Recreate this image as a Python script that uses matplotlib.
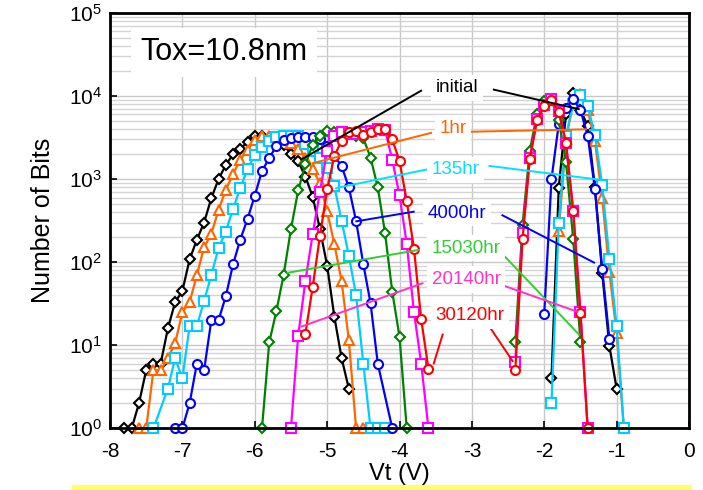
import matplotlib
matplotlib.use("Agg")
import matplotlib.pyplot as plt
from matplotlib.patches import Rectangle
from matplotlib.ticker import LogLocator, FixedLocator, NullFormatter

plt.rcParams["font.family"] = ["Liberation Sans", "DejaVu Sans"]
plt.rcParams["axes.unicode_minus"] = False
plt.rcParams["mathtext.fontset"] = "custom"
plt.rcParams["mathtext.rm"] = "Liberation Sans"
plt.rcParams["mathtext.it"] = "Liberation Sans:italic"
plt.rcParams["mathtext.bf"] = "Liberation Sans:bold"

# ---- Vt distributions: erased (lo) and programmed (hi) states per retention time ----
vt_initial_lo = [-7.8, -7.7, -7.6, -7.5, -7.4, -7.3, -7.2, -7.1, -7.0, -6.9, -6.8, -6.7, -6.6,
                 -6.5, -6.4, -6.3, -6.2, -6.1, -6.0, -5.9, -5.8, -5.7, -5.6, -5.5, -5.4, -5.3,
                 -5.2, -5.1, -5.0, -4.9, -4.8, -4.7]
n_initial_lo = [1, 1, 2, 5, 6, 6, 16, 33, 45, 108, 186, 300, 590,
                1000, 1480, 2000, 2290, 2830, 3300, 3350, 3100, 2800, 2600, 2000, 1630, 1070,
                615, 252, 91, 22, 7, 3]
vt_initial_hi = [-1.9, -1.8, -1.7, -1.6, -1.5, -1.4, -1.3, -1.2, -1.1, -1.0]
n_initial_hi = [4, 780, 6000, 11000, 6800, 4400, 800, 75, 9.8, 3]

vt_1hr_lo = [-7.6, -7.5, -7.4, -7.3, -7.2, -7.1, -7.0, -6.9, -6.8, -6.7, -6.6, -6.5, -6.4,
             -6.3, -6.2, -6.1, -6.0, -5.9, -5.8, -5.7, -5.6, -5.5, -5.4, -5.3, -5.2, -5.1,
             -5.0, -4.9, -4.8, -4.7, -4.6, -4.5]
n_1hr_lo = [1, 1, 5, 5, 7, 10.6, 25, 33, 70, 151, 219, 426, 740,
            1150, 1700, 2240, 2950, 3320, 3300, 3200, 3000, 2700, 2300, 1800, 1320, 890,
            410, 166, 59, 11.5, 1, 1]
vt_1hr_hi = [-1.8, -1.7, -1.6, -1.5, -1.4, -1.3, -1.2, -1.1, -1.0, -0.9]
n_1hr_hi = [235, 3000, 8500, 10500, 6800, 2880, 600, 76, 14, 1]

vt_135hr_lo = [-7.4, -7.2, -7.1, -7.0, -6.9, -6.8, -6.7, -6.6, -6.5, -6.4, -6.3, -6.2, -6.1,
               -6.0, -5.9, -5.8, -5.7, -5.6, -5.5, -5.4, -5.3, -5.2, -5.1, -5.0, -4.9, -4.8,
               -4.7, -4.6, -4.5, -4.4, -4.3, -4.2]
n_135hr_lo = [1, 3, 7, 4, 17, 17, 34, 70, 147, 234, 437, 780, 1320,
              1960, 2450, 2870, 3250, 3300, 3300, 3300, 2650, 2200, 1800, 1350, 820, 316,
              120, 40, 6, 1, 1, 1]
vt_135hr_hi = [-1.9, -1.8, -1.7, -1.6, -1.5, -1.4, -1.3, -1.2, -1.1, -1.0, -0.9]
n_135hr_hi = [2, 295, 3300, 8000, 10300, 7600, 3400, 860, 110, 17, 1]

vt_4000hr_lo = [-7.1, -7.0, -6.9, -6.8, -6.7, -6.6, -6.5, -6.4, -6.3, -6.2, -6.1, -6.0, -5.9,
                -5.8, -5.7, -5.6, -5.5, -5.4, -5.3, -5.2, -5.1, -5.0, -4.9, -4.8, -4.7, -4.6,
                -4.5, -4.4, -4.3, -4.1]
n_4000hr_lo = [1, 1, 2, 6, 5, 20, 20, 39, 94, 187, 330, 633, 1250,
               1790, 2520, 2950, 3150, 3220, 3250, 3250, 3000, 2500, 1900, 1440, 794, 313,
               95, 32, 6, 1]
vt_4000hr_hi = [-2.0, -1.9, -1.8, -1.7, -1.6, -1.5, -1.4, -1.3, -1.2, -1.1]
n_4000hr_hi = [24, 1000, 4600, 7200, 9200, 6800, 3330, 760, 83, 12]

vt_15030hr_lo = [-5.9, -5.8, -5.7, -5.6, -5.5, -5.4, -5.3, -5.2, -5.1, -5.0, -4.9, -4.8, -4.7,
                 -4.6, -4.5, -4.4, -4.3, -4.2, -4.1, -4.0, -3.9]
n_15030hr_lo = [1, 10.8, 26, 71, 250, 730, 1520, 2580, 3320, 3800, 3700, 3600, 3450,
                3300, 3100, 1820, 795, 225, 44, 12.7, 1]
vt_15030hr_hi = [-2.4, -2.3, -2.2, -2.1, -2.0, -1.9, -1.8, -1.7, -1.6, -1.5]
n_15030hr_hi = [10.8, 283, 2190, 6150, 8700, 9000, 5100, 1620, 190, 10.8]

vt_20140hr_lo = [-5.5, -5.4, -5.3, -5.2, -5.1, -5.0, -4.9, -4.8, -4.7, -4.6, -4.5, -4.4, -4.3,
                 -4.2, -4.1, -4.0, -3.9, -3.8, -3.7, -3.6]
n_20140hr_lo = [1, 13, 60, 217, 700, 2200, 3300, 3700, 3500, 3500, 3700, 3800, 4000,
                3950, 1700, 640, 166, 25, 6, 1]
vt_20140hr_hi = [-2.4, -2.3, -2.2, -2.1, -2.0, -1.9, -1.8, -1.7, -1.6, -1.5, -1.4]
n_20140hr_hi = [6.3, 225, 1800, 5300, 7800, 9200, 6600, 2700, 410, 25, 1]

vt_30120hr_lo = [-5.3, -5.2, -5.1, -5.0, -4.9, -4.8, -4.7, -4.6, -4.5, -4.4, -4.3, -4.2, -4.1,
                 -4.0, -3.9, -3.8, -3.7, -3.6]
n_30120hr_lo = [13.8, 50, 204, 750, 1900, 2900, 3700, 3800, 3400, 3700, 4000, 4000, 3000,
                1660, 545, 145, 20.5, 5.2]
vt_30120hr_hi = [-2.4, -2.3, -2.2, -2.1, -2.0, -1.9, -1.8, -1.7, -1.6, -1.5, -1.4]
n_30120hr_hi = [5.0, 190, 1740, 5100, 7600, 8900, 6500, 2750, 417, 24.6, 1]

labels = ["initial", "1hr", "135hr", "4000hr", "15030hr", "20140hr", "30120hr"]
x_ticks = [-8, -7, -6, -5, -4, -3, -2, -1, 0]
x_ticklabels = ["-8", "-7", "-6", "-5", "-4", "-3", "-2", "-1", "0"]

# line colour, marker, marker size, label/leader colour
styles = [
    ("#000000", "D", 5.5, "#000000"),
    ("#FF6600", "^", 7.5, "#FF6600"),
    ("#00CCFF", "s", 6.5, "#00E0FF"),
    ("#0000FF", "o", 6.5, "#0000FF"),
    ("#008000", "D", 5.5, "#33CC33"),
    ("#FF00FF", "s", 6.5, "#FF33CC"),
    ("#FF0000", "o", 6.5, "#FF0000"),
]
series = [
    (vt_initial_lo, n_initial_lo, vt_initial_hi, n_initial_hi),
    (vt_1hr_lo, n_1hr_lo, vt_1hr_hi, n_1hr_hi),
    (vt_135hr_lo, n_135hr_lo, vt_135hr_hi, n_135hr_hi),
    (vt_4000hr_lo, n_4000hr_lo, vt_4000hr_hi, n_4000hr_hi),
    (vt_15030hr_lo, n_15030hr_lo, vt_15030hr_hi, n_15030hr_hi),
    (vt_20140hr_lo, n_20140hr_lo, vt_20140hr_hi, n_20140hr_hi),
    (vt_30120hr_lo, n_30120hr_lo, vt_30120hr_hi, n_30120hr_hi),
]

# label anchor (Vt, log10 N) and leader segments [(x0, logy0, x1, logy1), ...]
label_pos = [(-3.20, 4.10), (-3.26, 3.61), (-3.23, 3.11), (-3.21, 2.59),
             (-3.08, 2.17), (-3.08, 1.79), (-3.03, 1.36)]
leaders = [
    [(-3.69, 4.07, -5.37, 3.23), (-2.71, 4.08, -1.51, 3.84)],
    [(-3.55, 3.56, -5.21, 3.19), (-3.03, 3.57, -1.41, 3.60)],
    [(-3.60, 3.12, -4.89, 2.89), (-2.77, 3.16, -1.21, 2.99)],
    [(-3.79, 2.61, -4.61, 2.49), (-2.59, 2.57, -1.30, 1.99)],
    [(-3.72, 2.15, -5.56, 1.87), (-2.59, 2.11, -1.51, 1.12)],
    [(-3.67, 1.75, -5.37, 1.22), (-2.57, 1.72, -1.53, 1.40)],
    [(-3.40, 1.14, -3.53, 0.77), (-2.77, 1.24, -2.43, 0.80)],
]

W, H = 703, 490
fig = plt.figure(figsize=(W / 100, H / 100), dpi=100)
ax = fig.add_axes([110 / W, (H - 428.3) / H, (689 - 110) / W, (428.3 - 13) / H])

for (vlo, nlo, vhi, nhi), (col, mk, ms, _) in zip(series, styles):
    for v, n in ((vlo, nlo), (vhi, nhi)):
        ax.plot(v, n, color=col, lw=1.6, marker=mk, ms=ms, mfc="white", mec=col,
                mew=1.5, clip_on=False, zorder=3)

for (lx, ly), segs, lab, (_, _, _, tcol) in zip(label_pos, leaders, labels, styles):
    for x0, y0, x1, y1 in segs:
        ax.plot([x0, x1], [10 ** y0, 10 ** y1], color=tcol, lw=1.4, zorder=5,
                solid_capstyle="butt")
    ax.text(lx, 10 ** ly, lab, color=tcol, fontsize=13.5, ha="center", va="center",
            zorder=6, bbox=dict(boxstyle="square,pad=0.25", fc="white", ec="none"))

ax.text(0.197, 0.905, "Tox=10.8nm", transform=ax.transAxes, fontsize=22,
        ha="center", va="center", zorder=6,
        bbox=dict(boxstyle="square,pad=0.3", fc="white", ec="none"))

ax.set_yscale("log")
ax.set_xlim(-8, 0)
ax.set_ylim(1, 1e5)
ax.xaxis.set_major_locator(FixedLocator(x_ticks))
ax.set_xticklabels(x_ticklabels)
ax.yaxis.set_major_locator(LogLocator(base=10, numticks=10))
ax.yaxis.set_minor_locator(LogLocator(base=10, subs=range(2, 10), numticks=20))
ax.yaxis.set_minor_formatter(NullFormatter())

ax.grid(True, which="major", color="#c8c8c8", lw=1.0, zorder=0)
ax.grid(True, which="minor", axis="y", color="#d4d4d4", lw=1.0, zorder=0)
ax.set_axisbelow(True)

ax.tick_params(axis="both", which="major", direction="in", length=5, width=1.2,
               labelsize=15)
ax.tick_params(axis="x", which="major", pad=10)
ax.tick_params(axis="y", which="major", pad=6)
ax.tick_params(axis="y", which="minor", length=0)
for s in ax.spines.values():
    s.set_linewidth(2.0)
    s.set_zorder(4)

ax.set_xlabel("Vt (V)", fontsize=17, labelpad=1)
ax.set_ylabel("Number of Bits", fontsize=18, labelpad=10)

fig.patches.append(Rectangle((72 / W, 0.5 / H), (692 - 72) / W, 5 / H,
                             transform=fig.transFigure, fc="#FFFF66", ec="none"))

fig.savefig("out.png", dpi=100)
